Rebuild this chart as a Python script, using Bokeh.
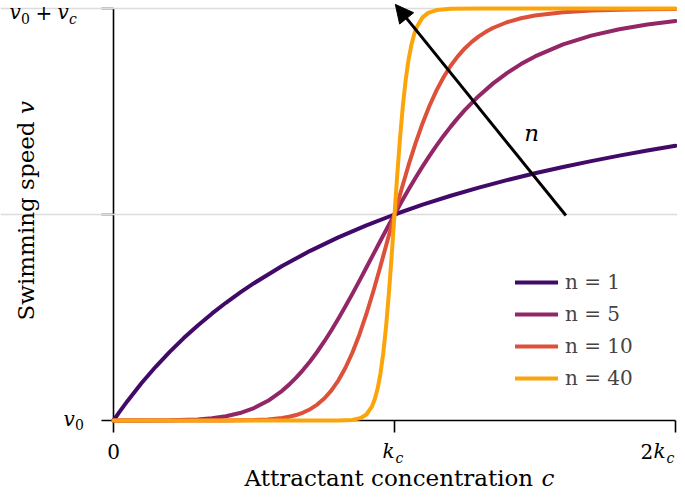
import math
from bokeh.plotting import figure
from bokeh.models import Range1d, Label, Arrow, NormalHead, FixedTicker
from bokeh.embed import file_html
from bokeh.resources import INLINE

# ---------------- data ----------------
n1_x = [0, 0.02, 0.05, 0.1, 0.15, 0.2, 0.25, 0.3, 0.35, 0.4, 0.45, 0.5, 0.6, 0.7, 0.8,
        0.9, 1.0, 1.1, 1.2, 1.3, 1.4, 1.5, 1.6, 1.7, 1.8, 1.9, 2.0]
n1_y = [0, 0.0196, 0.0476, 0.0909, 0.1304, 0.1667, 0.2, 0.2308, 0.2593, 0.2857, 0.3103,
        0.3333, 0.375, 0.4118, 0.4444, 0.4737, 0.5, 0.5238, 0.5455, 0.5652, 0.5833, 0.6,
        0.6154, 0.6296, 0.6429, 0.6552, 0.6667]

n5_x = [0, 0.1, 0.2, 0.3, 0.35, 0.4, 0.45, 0.5, 0.55, 0.6, 0.625, 0.65, 0.675, 0.7,
        0.725, 0.75, 0.775, 0.8, 0.825, 0.85, 0.875, 0.9, 0.925, 0.95, 0.975, 1.0,
        1.025, 1.05, 1.075, 1.1, 1.125, 1.15, 1.175, 1.2, 1.225, 1.25, 1.3, 1.35, 1.4,
        1.45, 1.5, 1.6, 1.7, 1.8, 1.9, 2.0]
n5_y = [0, 0.00001, 0.00032, 0.00242, 0.00522, 0.01014, 0.01812, 0.03030, 0.04792,
        0.07215, 0.08707, 0.10397, 0.12291, 0.14389, 0.16688, 0.19179, 0.21851, 0.24681,
        0.27650, 0.30734, 0.33901, 0.37126, 0.40376, 0.43623, 0.46840, 0.5, 0.53083,
        0.56067, 0.58944, 0.61693, 0.64312, 0.66793, 0.69134, 0.71333, 0.73394, 0.75320,
        0.78782, 0.81765, 0.84322, 0.86504, 0.88364, 0.91294, 0.93420, 0.94974, 0.96118,
        0.96970]

n10_x = [0, 0.3, 0.4, 0.45, 0.5, 0.55, 0.6, 0.625, 0.65, 0.675, 0.7, 0.725, 0.75, 0.775,
         0.8, 0.825, 0.85, 0.875, 0.9, 0.925, 0.95, 0.975, 1.0, 1.025, 1.05, 1.075, 1.1,
         1.125, 1.15, 1.175, 1.2, 1.225, 1.25, 1.275, 1.3, 1.325, 1.35, 1.4, 1.45, 1.5,
         1.6, 1.7, 1.8, 1.9, 2.0]
n10_y = [0, 0.00001, 0.0001, 0.00034, 0.00098, 0.00253, 0.00601, 0.00901, 0.01328,
         0.01926, 0.02747, 0.03857, 0.05331, 0.07250, 0.09696, 0.12745, 0.16449, 0.20828,
         0.25857, 0.31440, 0.37451, 0.43704, 0.5, 0.56142, 0.61962, 0.67332, 0.72173,
         0.76455, 0.80181, 0.83379, 0.86095, 0.88385, 0.90304, 0.91905, 0.93237, 0.94343,
         0.95262, 0.96658, 0.97624, 0.98295, 0.99099, 0.99506, 0.99721, 0.99837, 0.99902]

n40_x = [0, 0.5, 0.7, 0.75, 0.8, 0.85, 0.88, 0.9, 0.92, 0.93, 0.94, 0.95, 0.96, 0.97,
         0.98, 0.99, 1.0, 1.01, 1.02, 1.03, 1.04, 1.05, 1.06, 1.07, 1.08, 1.1, 1.12,
         1.15, 1.2, 1.3, 1.5, 2.0]
n40_y = [0, 0, 0, 0.00001, 0.00013, 0.0015, 0.00598, 0.01457, 0.03439, 0.05203, 0.07763,
         0.11388, 0.16343, 0.22823, 0.30833, 0.40083, 0.5, 0.59821, 0.68829, 0.76537,
         0.82762, 0.87562, 0.91139, 0.93740, 0.95599, 0.97838, 0.98937, 0.99628, 0.99932,
         1.0, 1.0, 1.0]

series_labels = ["n = 1", "n = 5", "n = 10", "n = 40"]
series_colors = ["#420a68", "#932667", "#dd513a", "#fca50a"]

x_ticks = [0, 1, 2]
y_ticks = [0, 0.5, 1]
grid_levels = [0.5, 1]

# arrow "increasing n" (data coordinates)
arrow_start = (1.61, 0.4976)
arrow_end = (1.003, 1.01)
arrow_text_pos = (1.488, 0.697)

# ---------------- layout ----------------
W, H = 677, 491
X0_PX, PX_X = 113, 281.0     # pixel of data x=0, pixels per unit
Y0_PX, PX_Y = 420, 412.0     # pixel of data y=0, pixels per unit
x_lo = -X0_PX / PX_X
x_hi = x_lo + W / PX_X
y_hi = Y0_PX / PX_Y
y_lo = y_hi - H / PX_Y


def dx(px):
    return (px - X0_PX) / PX_X


def dy(py):
    return (Y0_PX - py) / PX_Y


SERIF = "DejaVu Serif"

p = figure(width=W, height=H, x_range=Range1d(x_lo, x_hi), y_range=Range1d(y_lo, y_hi),
           output_backend="svg", toolbar_location=None,
           min_border=0, min_border_left=0, min_border_right=0, min_border_top=0,
           min_border_bottom=0)
p.outline_line_color = None
p.background_fill_color = "white"
p.border_fill_color = "white"

p.xgrid.visible = False
p.ygrid.ticker = FixedTicker(ticks=grid_levels)
p.ygrid.bounds = (0, 2)
p.ygrid.grid_line_color = "#dcdcdc"
p.ygrid.grid_line_width = 1.5

for ax in (p.xaxis[0], p.yaxis[0]):
    ax.fixed_location = 0
    ax.level = "underlay"
    ax.axis_line_color = "black"
    ax.axis_line_width = 1.6
    ax.major_tick_line_color = "black"
    ax.major_tick_line_width = 1.6
    ax.major_tick_out = 12
    ax.major_tick_in = 0
    ax.minor_tick_line_color = None

p.xaxis.ticker = FixedTicker(ticks=x_ticks)
p.xaxis.bounds = (0, 2)
p.xaxis.major_label_overrides = {t: "" for t in x_ticks}
p.yaxis.ticker = FixedTicker(ticks=y_ticks)
p.yaxis.bounds = (0, 1)
p.yaxis.major_label_overrides = {t: "" for t in y_ticks}

all_x = [n1_x, n5_x, n10_x, n40_x]
all_y = [n1_y, n5_y, n10_y, n40_y]
for xs, ys, lab_, col in zip(all_x, all_y, series_labels, series_colors):
    p.line(xs, ys, line_color=col, line_width=4, line_join="round", line_cap="round",
           legend_label=lab_)

leg = p.legend[0]
leg.location = (515, 101)
leg.border_line_color = None
leg.background_fill_alpha = 0
leg.padding = 0
leg.margin = 0
leg.spacing = 8
leg.glyph_width = 43
leg.glyph_height = 20
leg.label_height = 20
leg.label_standoff = 7
leg.label_text_font = SERIF
leg.label_text_font_size = "20px"
leg.label_text_baseline = "middle"


def lab(x, y, text, size=20, italic=False, align="left", angle=0.0):
    p.add_layout(Label(x=x, y=y, text=text, text_font=SERIF, text_font_size=f"{size}px",
                       text_font_style="italic" if italic else "normal",
                       text_align=align, text_baseline="middle", angle=angle,
                       text_color="black"))


# y tick labels (positions are vertical centres of the glyph boxes)
c = 11.6
lab(dx(9), dy(c), "v", italic=True)
lab(dx(20.5), dy(c + 6.4), "0", size=14)
lab(dx(35), dy(c), "+")
lab(dx(57), dy(c), "v", italic=True)
lab(dx(68.5), dy(c + 6.4), "c", size=14, italic=True)
c = 418
lab(dx(63), dy(c), "v", italic=True)
lab(dx(74.5), dy(c + 6.4), "0", size=14)

# x tick labels
c = 450.6
lab(0, dy(c), "0", align="center")
t1 = X0_PX + PX_X
lab(dx(t1 - 12), dy(c), "k", italic=True)
lab(dx(t1 + 1), dy(c + 6.4), "c", size=14, italic=True)
t2 = X0_PX + 2 * PX_X
lab(dx(t2 - 35), dy(c), "2")
lab(dx(t2 - 22), dy(c), "k", italic=True)
lab(dx(t2 - 9), dy(c + 6.4), "c", size=14, italic=True)

# axis titles
lab(dx(244), dy(477), "Attractant concentration", size=23)
lab(dx(541), dy(477), "c", size=23, italic=True)
lab(dx(25.6), dy(320), "Swimming speed", size=23, angle=math.pi / 2)
lab(dx(25.6), dy(113.6), "v", size=23, italic=True, angle=math.pi / 2)

# arrow with n
p.add_layout(Arrow(end=NormalHead(size=18, fill_color="black", line_color="black"),
                   x_start=arrow_start[0], y_start=arrow_start[1],
                   x_end=arrow_end[0], y_end=arrow_end[1],
                   line_color="black", line_width=3))
lab(arrow_text_pos[0], arrow_text_pos[1], "n", size=23, italic=True, align="center")

open("out.html", "w").write(file_html(p, INLINE))
